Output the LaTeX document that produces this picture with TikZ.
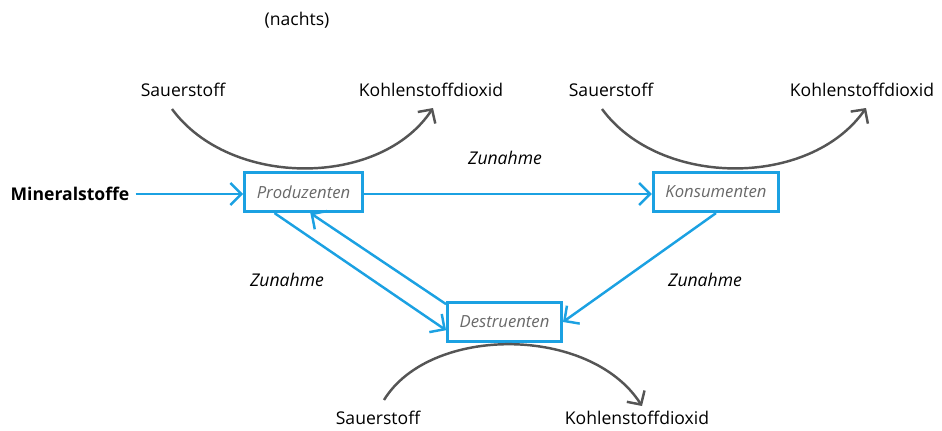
\documentclass[tikz,border=0pt]{standalone}
\usepackage{fontspec}
\setmainfont{Open Sans}
\usepackage{tikz}
\usetikzlibrary{arrows.meta,calc}
\definecolor{flowblue}{RGB}{27,161,226}
\definecolor{curvegray}{RGB}{85,85,85}
\definecolor{boxtext}{RGB}{105,105,105}

\begin{document}
\begin{tikzpicture}[x=0.02cm,y=-0.02cm,
    font=\fontsize{10}{12}\selectfont,
    organism/.style={draw=flowblue,line width=1.8pt,inner xsep=0.24cm,minimum height=0.78cm,
        text=boxtext,font=\fontsize{9.5}{12}\selectfont\itshape},
    flow/.style={draw=flowblue,line width=1.4pt,-{Straight Barb[length=0.22cm,width=0.44cm]}},
    gas/.style={draw=curvegray,line width=1.4pt,-{Straight Barb[length=0.2cm,width=0.42cm]}},
    growth/.style={font=\fontsize{10}{12}\selectfont\itshape}]
    \useasboundingbox (0,0) rectangle (942,430);
    \node (night) at (297,20) {(nachts)};
    \node (sauer1) at (183,90) {Sauerstoff};
    \node (kohlen1) at (431,90) {Kohlenstoffdioxid};
    \node (sauer2) at (611,90) {Sauerstoff};
    \node (kohlen2) at (862,90) {Kohlenstoffdioxid};
    \node (sauer3) at (378,418) {Sauerstoff};
    \node (kohlen3) at (637,418) {Kohlenstoffdioxid};
    \node[font=\fontsize{10}{12}\selectfont\bfseries] (mineral) at (70,194) {Mineralstoffe};
    \node[organism] (prod) at (303.5,192) {Produzenten};
    \node[organism] (kons) at (716,192) {Konsumenten};
    \node[organism] (destr) at (504.5,322) {Destruenten};
    \node[growth] (zun1) at (505,158) {Zunahme};
    \node[growth] (zun2) at (287,280) {Zunahme};
    \node[growth] (zun3) at (705,280) {Zunahme};
    \draw[gas] ([xshift=-0.22cm,yshift=-0.12cm]sauer1.south) .. controls (230,188) and (380,188) .. ([xshift=0.04cm,yshift=-0.1cm]kohlen1.south);
    \draw[gas] ([xshift=-0.18cm,yshift=-0.12cm]sauer2.south) .. controls (660,188) and (810,188) .. ([xshift=0.08cm,yshift=-0.1cm]kohlen2.south);
    \draw[gas] ([xshift=0.12cm,yshift=0.1cm]sauer3.north) .. controls (430,325) and (590,325) .. ([xshift=0.1cm,yshift=-0.02cm]kohlen3.north);
    \draw[flow] (mineral.east) -- (mineral.east -| prod.west);
    \draw[flow] ([yshift=-0.04cm]prod.east) -- ([yshift=-0.04cm]kons.west);
    \draw[flow] (prod.216) -- (destr.188);
    \draw[flow] (destr.163) -- (prod.288);
    \draw[flow] (kons.south) -- (destr.east);
\end{tikzpicture}
\end{document}
